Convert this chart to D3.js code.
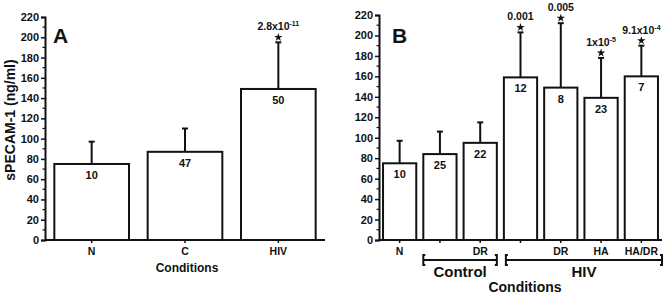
<!DOCTYPE html>
<html><head><meta charset="utf-8">
<script src="https://cdn.jsdelivr.net/npm/d3@7"></script>
<style>body{margin:0;background:#fff}svg{display:block}text{font-family:"Liberation Sans",Arial,sans-serif;font-weight:bold;fill:#111}</style>
</head><body><svg id="c" width="665" height="297"></svg>
<script>
// Panel A data
const catsA = ["N", "C", "HIV"];
const meansA = [75, 87, 149];
const sdA = [22, 23, 46];
const nA = [10, 47, 50];
const pA = [null, null, ["2.8x10", "-11"]];
// Panel B data
const catsB = ["N", "Control", "Control DR", "HIV", "HIV DR", "HIV HA", "HIV HA/DR"];
const tickLabelsB = ["N", "", "DR", "", "DR", "HA", "HA/DR"];
const meansB = [75, 84, 95, 159, 149, 139, 160];
const sdB = [22, 22, 20, 44, 63, 39, 30];
const nB = [10, 25, 22, 12, 8, 23, 7];
const pB = [null, null, null, ["0.001", ""], ["0.005", ""], ["1x10", "-5"], ["9.1x10", "-4"]];
const yTicks = [0, 20, 40, 60, 80, 100, 120, 140, 160, 180, 200, 220];
const minorTicks = d3.range(10, 220, 20);

const svg = d3.select("#c");
const ink = "#111";

function panel(cfg) {
  const g = svg.append("g");
  const y = d3.scaleLinear().domain([0, 220]).range([cfg.y0, cfg.y1]);
  const x = d3.scaleBand().domain(cfg.cats).range([cfg.x0, cfg.x1])
    .paddingInner(cfg.pi).paddingOuter(cfg.po);
  // y axis
  const ya = d3.axisLeft(y).tickValues(yTicks).tickSize(4).tickPadding(2);
  const yg = g.append("g").attr("transform", `translate(${cfg.x0},0)`).call(ya);
  yg.select(".domain").attr("stroke", ink).attr("stroke-width", 2);
  yg.selectAll(".tick line").attr("stroke", ink).attr("stroke-width", 1.5);
  yg.selectAll(".tick text").style("font-size", "11px").style("font-family", "Liberation Sans,Arial").style("font-weight", "bold").attr("fill", ink);
  g.selectAll(".minor").data(minorTicks).join("line")
    .attr("x1", cfg.x0 - 2.5).attr("x2", cfg.x0).attr("y1", d => y(d)).attr("y2", d => y(d))
    .attr("stroke", ink).attr("stroke-width", 1.2);
  // x axis
  const xa = d3.axisBottom(x).tickSize(3).tickFormat((d, i) => cfg.tickLabels[i]).tickPadding(5);
  const xg = g.append("g").attr("transform", `translate(0,${cfg.y0})`).call(xa);
  xg.select(".domain").attr("d", `M${cfg.x0},0H${cfg.x1}`).attr("stroke", ink).attr("stroke-width", 2);
  xg.selectAll(".tick line").attr("stroke", ink).attr("stroke-width", 1.5);
  xg.selectAll(".tick text").style("font-size", "10.5px").style("font-family", "Liberation Sans,Arial").style("font-weight", "bold").attr("fill", ink);
  // error bars
  const cx = d => x(d) + x.bandwidth() / 2;
  g.selectAll(".eb").data(cfg.cats).join("line")
    .attr("x1", cx).attr("x2", cx)
    .attr("y1", (d, i) => y(cfg.means[i])).attr("y2", (d, i) => y(cfg.means[i] + cfg.sd[i]))
    .attr("stroke", ink).attr("stroke-width", 2);
  g.selectAll(".cap").data(cfg.cats).join("line")
    .attr("x1", d => cx(d) - 3).attr("x2", d => cx(d) + 3)
    .attr("y1", (d, i) => y(cfg.means[i] + cfg.sd[i])).attr("y2", (d, i) => y(cfg.means[i] + cfg.sd[i]))
    .attr("stroke", ink).attr("stroke-width", 2);
  // bars
  g.selectAll(".bar").data(cfg.cats).join("rect")
    .attr("x", d => x(d)).attr("width", x.bandwidth())
    .attr("y", (d, i) => y(cfg.means[i])).attr("height", (d, i) => cfg.y0 - y(cfg.means[i]))
    .attr("fill", "#fff").attr("stroke", ink).attr("stroke-width", 2);
  // n labels
  g.selectAll(".nl").data(cfg.cats).join("text")
    .attr("x", cx).attr("y", (d, i) => y(cfg.means[i]) + 15)
    .attr("text-anchor", "middle").style("font-size", "11px").text((d, i) => cfg.n[i]);
  // p-values & stars
  cfg.cats.forEach((d, i) => {
    const p = cfg.p[i];
    if (!p) return;
    const top = y(cfg.means[i] + cfg.sd[i]);
    g.append("path").attr("d", d3.symbol().type(d3.symbolStar).size(22)())
      .attr("transform", `translate(${cx(d)},${top - 5})`).attr("fill", ink);
    const t = g.append("text").attr("x", cx(d)).attr("y", top - 12).attr("text-anchor", "middle")
      .style("font-size", "10.5px");
    t.append("tspan").text(p[0]);
    if (p[1]) t.append("tspan").attr("dy", -4).style("font-size", "7px").text(p[1]);
  });
  // panel letter
  g.append("text").attr("x", cfg.lx).attr("y", cfg.ly).style("font-size", "21px").text(cfg.letter);
  return {x, y, g};
}

const A = panel({cats: catsA, tickLabels: catsA, means: meansA, sd: sdA, n: nA, p: pA,
  x0: 45, x1: 325, y0: 240, y1: 17, pi: 0.2, po: 0.1, letter: "A", lx: 53, ly: 43});
const B = panel({cats: catsB, tickLabels: tickLabelsB, means: meansB, sd: sdB, n: nB, p: pB,
  x0: 379, x1: 662, y0: 240, y1: 15, pi: 0.175, po: 0.1, letter: "B", lx: 392, ly: 43});

// y label
svg.append("text").attr("transform", "translate(15,120) rotate(-90)").attr("text-anchor", "middle")
  .style("font-size", "14px").text("sPECAM-1 (ng/ml)");
// x titles
svg.append("text").attr("x", 187).attr("y", 272).attr("text-anchor", "middle").style("font-size", "12px").text("Conditions");
svg.append("text").attr("x", 525).attr("y", 292).attr("text-anchor", "middle").style("font-size", "14px").text("Conditions");

// brackets
function bracket(xa, xb, yb, label) {
  const p = d3.path();
  p.moveTo(xa + 2, yb - 5); p.lineTo(xa, yb - 5); p.lineTo(xa, yb + 5); p.lineTo(xa + 2, yb + 5);
  p.moveTo(xa, yb); p.lineTo(xb, yb);
  p.moveTo(xb - 2, yb - 5); p.lineTo(xb, yb - 5); p.lineTo(xb, yb + 5); p.lineTo(xb - 2, yb + 5);
  svg.append("path").attr("d", p.toString()).attr("fill", "none").attr("stroke", ink).attr("stroke-width", 2);
  svg.append("text").attr("x", (xa + xb) / 2).attr("y", yb + 17).attr("text-anchor", "middle").style("font-size", "15px").text(label);
}
const xb = B.x;
bracket(xb("Control") - 0, xb("Control DR") + xb.bandwidth(), 260, "Control");
bracket(xb("HIV") + 2, 662, 260, "HIV");
</script></body></html>
